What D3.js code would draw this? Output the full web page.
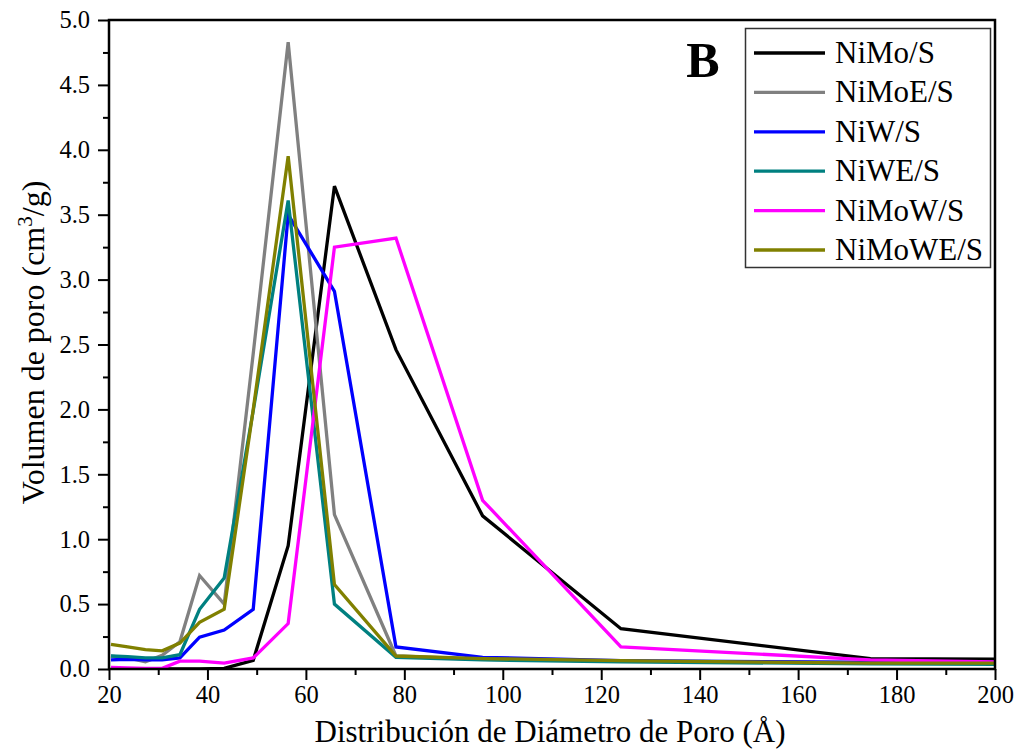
<!DOCTYPE html>
<html><head><meta charset="utf-8">
<script src="https://cdn.jsdelivr.net/npm/d3@7"></script>
<style>
body{margin:0;background:#fff;}
text{font-family:"Liberation Serif","Times New Roman",serif;}
</style></head>
<body><svg id="c" width="1022" height="750"></svg>
<script>
const poreDiameter = [20.4, 23.8, 27.4, 30.8, 34.4, 38.4, 43.4, 49.3, 56.4, 65.8, 78.3, 95.9, 124.0, 174.7, 200];
const seriesNames = ["NiMo/S","NiMoE/S","NiW/S","NiWE/S","NiMoW/S","NiMoWE/S"];
const seriesColors = ["#000000","#808080","#0000ff","#008080","#ff00ff","#808000"];
const NiMo_S   = [0.0, 0.0, 0.0, 0.0, 0.0, 0.0, 0.005, 0.067, 0.95, 3.72, 2.46, 1.18, 0.31, 0.08, 0.075];
const NiMoE_S  = [0.10, 0.085, 0.056, 0.105, 0.21, 0.72, 0.50, 2.43, 4.83, 1.19, 0.10, 0.075, 0.06, 0.05, 0.05];
const NiW_S    = [0.07, 0.075, 0.07, 0.07, 0.085, 0.245, 0.30, 0.46, 3.50, 2.91, 0.17, 0.09, 0.065, 0.05, 0.05];
const NiWE_S   = [0.10, 0.095, 0.085, 0.085, 0.11, 0.46, 0.70, 1.99, 3.61, 0.50, 0.09, 0.07, 0.055, 0.04, 0.035];
const NiMoW_S  = [0.012, 0.008, 0.005, 0.005, 0.06, 0.06, 0.045, 0.085, 0.35, 3.25, 3.32, 1.30, 0.17, 0.07, 0.055];
const NiMoWE_S = [0.19, 0.17, 0.15, 0.14, 0.20, 0.36, 0.46, 2.00, 3.95, 0.65, 0.10, 0.08, 0.065, 0.045, 0.045];
const seriesValues = [NiMo_S, NiMoE_S, NiW_S, NiWE_S, NiMoW_S, NiMoWE_S];
const xTicks = [20,40,60,80,100,120,140,160,180,200];
const yTicks = [0,0.5,1,1.5,2,2.5,3,3.5,4,4.5,5];

const svg = d3.select("#c");
const m = {left:109, top:20, right:27, bottom:81};
const W = 1022 - m.left - m.right, H = 750 - m.top - m.bottom;
const g = svg.append("g").attr("transform",`translate(${m.left},${m.top})`);
const x = d3.scaleLinear().domain([20,200]).range([0,W]);
const y = d3.scaleLinear().domain([0,5]).range([H,0]);

g.append("defs").append("clipPath").attr("id","clip").append("rect").attr("width",W).attr("height",H);

// lines
const line = d3.line().x((d,i)=>x(poreDiameter[i])).y(d=>y(d));
const lg = g.append("g").attr("clip-path","url(#clip)");
seriesValues.forEach((vals,k)=>{
  lg.append("path").datum(vals).attr("d",line).attr("fill","none")
    .attr("stroke",seriesColors[k]).attr("stroke-width",3.3).attr("stroke-linejoin","miter");
});

// minor ticks
const xMinor = d3.range(30,200,20);
const yMinor = d3.range(0.25,5,0.5);
g.append("g").attr("transform",`translate(0,${H})`)
  .call(d3.axisBottom(x).tickValues(xMinor).tickSize(6).tickFormat(""))
  .call(s=>s.select(".domain").remove()).selectAll("line").attr("stroke-width",2);
g.append("g")
  .call(d3.axisLeft(y).tickValues(yMinor).tickSize(6).tickFormat(""))
  .call(s=>s.select(".domain").remove()).selectAll("line").attr("stroke-width",2);

// major axes
const xa = g.append("g").attr("transform",`translate(0,${H})`)
  .call(d3.axisBottom(x).tickValues(xTicks).tickSize(11).tickPadding(6).tickFormat(d3.format("d")));
const ya = g.append("g")
  .call(d3.axisLeft(y).tickValues(yTicks).tickSize(11).tickPadding(8).tickFormat(d3.format(".1f")));
[xa,ya].forEach(a=>{
  a.select(".domain").remove();
  a.selectAll("line").attr("stroke-width",2);
  a.selectAll("text").attr("font-size",24.5).attr("fill","#000").attr("font-family","Liberation Serif");
});

// frame
g.append("rect").attr("width",W).attr("height",H).attr("fill","none").attr("stroke","#000").attr("stroke-width",2.5);

// axis titles
svg.append("text").attr("x",m.left+W/2-2).attr("y",742).attr("text-anchor","middle")
  .attr("font-size",31).text("Distribución de Diámetro de Poro (Å)");
const yt = svg.append("text").attr("transform",`translate(44,${m.top+H/2-2}) rotate(-90)`)
  .attr("text-anchor","middle").attr("font-size",32);
yt.append("tspan").text("Volumen de poro (cm");
yt.append("tspan").attr("font-size",21).attr("dy",-12).text("3");
yt.append("tspan").attr("dy",12).text("/g)");

// B label
svg.append("text").attr("x",703).attr("y",77).attr("text-anchor","middle")
  .attr("font-size",50).attr("font-weight","bold").text("B");

// legend
const leg = svg.append("g");
leg.append("rect").attr("x",745.5).attr("y",28.5).attr("width",245).attr("height",239)
  .attr("fill","#fff").attr("stroke","#333").attr("stroke-width",1.5);
seriesNames.forEach((n,k)=>{
  const yy = 53 + k*39.4;
  leg.append("line").attr("x1",754).attr("x2",825).attr("y1",yy).attr("y2",yy)
    .attr("stroke",seriesColors[k]).attr("stroke-width",3.3);
  leg.append("text").attr("x",835).attr("y",yy+10).attr("font-size",31).text(n);
});
</script></body></html>
